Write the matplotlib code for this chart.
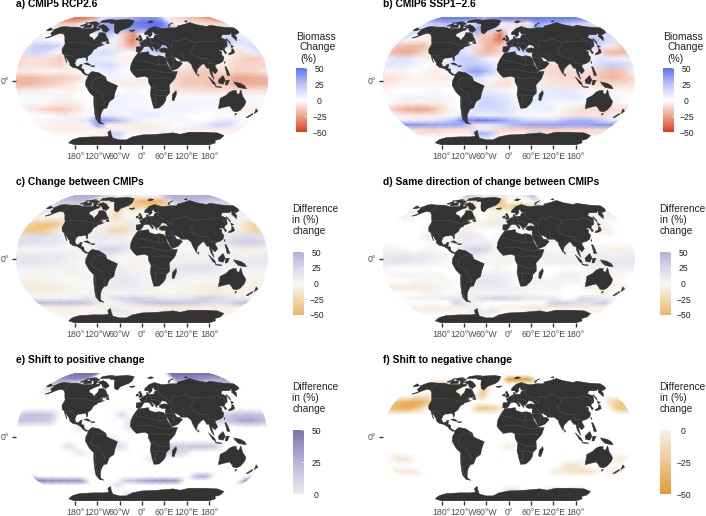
import numpy as np
import matplotlib
matplotlib.use("Agg")
import matplotlib.pyplot as plt
from matplotlib.colors import LinearSegmentedColormap, Normalize
from matplotlib.cm import ScalarMappable
from matplotlib.patches import Polygon

plt.rcParams['font.family'] = ['Liberation Sans', 'DejaVu Sans']

W, H = 706, 516
LATS = [84, 76, 68, 60, 52, 44, 36, 28, 20, 12, 4, -4, -12, -20, -28, -36, -44, -50, -56, -62, -68, -74]
LONS = list(range(-180, 180, 15))

# % biomass change (rows LATS, columns LONS)
cmip5 = [
 [-35,-35,-35,-30,-25,15,15,20,25,25,30,35,40,40,40,35,5,-8,-10,-12,-15,-18,-20,-25],
 [-15,-15,-15,-12,0,20,25,35,35,30,40,45,50,50,50,45,20,-5,-8,-8,-10,-10,-12,-12],
 [-5,-8,10,10,12,15,20,30,35,25,35,40,40,45,50,40,15,-5,-5,-8,-8,-8,-8,-8],
 [5,0,-5,-8,-5,5,5,10,25,10,-15,-30,5,10,10,0,0,0,0,0,-5,5,10,8],
 [8,5,3,0,0,0,0,5,10,5,-15,-35,5,0,0,0,0,0,0,0,0,25,20,12],
 [15,20,22,18,5,0,0,5,5,-5,-12,-25,10,15,35,0,0,0,0,0,0,15,5,10],
 [12,18,15,5,-5,0,0,10,15,12,5,0,12,20,25,0,0,0,0,0,-3,-3,-8,5],
 [-10,-8,-8,-10,-15,0,5,8,8,5,-3,-5,0,0,0,0,-3,0,0,0,-3,-8,-12,-15],
 [-10,-8,-8,-10,-12,-5,10,12,12,15,5,0,0,0,-2,-5,-5,-8,-8,-3,-5,-10,-12,-12],
 [-5,-5,-3,-3,-3,-5,0,3,5,8,3,0,0,0,-3,-8,-10,-12,-15,-12,-8,-12,-12,-10],
 [-18,-20,-18,-15,-15,-12,-10,0,3,5,5,-3,-5,0,0,-10,-14,-15,-15,-18,-18,-25,-25,-22],
 [-20,-20,-18,-15,-12,-8,-3,0,0,-3,-5,-5,-5,0,-5,-8,-15,-15,-15,-18,-15,-22,-22,-22],
 [-8,-5,-5,-3,-3,-3,-2,0,0,0,0,3,0,0,-5,-8,-8,-8,-10,-10,-8,-8,-8,-8],
 [0,3,3,3,5,3,0,0,0,3,5,5,3,0,-3,-3,0,3,3,3,0,0,3,3],
 [3,3,0,-3,-5,-5,-3,0,0,5,5,3,5,0,3,3,5,5,5,5,0,-3,-3,3],
 [-3,-8,-12,-15,-15,-10,-5,0,3,5,5,5,5,3,5,5,5,5,3,0,-3,-3,-5,-5],
 [0,0,0,-3,-5,-3,0,5,10,8,5,5,8,8,5,3,3,0,0,0,3,0,-3,0],
 [0,3,5,5,5,8,10,35,40,30,20,10,5,3,3,3,3,3,0,0,5,8,8,3],
 [-3,-3,-3,-5,-5,-3,5,40,-3,-5,-5,-5,-5,-5,-3,-3,0,3,5,8,15,18,15,3],
 [-5,-5,-5,-5,-5,-5,-5,-5,5,-3,-5,-5,-5,-5,-5,-3,-3,-5,-5,-5,-5,-5,-5,-5],
 [-3,-3,-3,-3,-3,-3,-3,-3,15,20,5,-3,0,0,3,8,3,0,0,-3,0,0,-3,-3],
 [0,0,0,0,0,-3,-3,-3,15,10,0,0,0,0,0,0,0,0,0,0,0,0,0,0],
]
# % biomass change
cmip6 = [
 [45,45,45,45,45,45,40,35,30,40,40,45,45,45,45,45,45,45,45,45,45,45,45,45],
 [15,20,25,30,25,15,10,15,25,30,20,5,-8,-10,-10,-5,35,35,30,30,30,25,20,15],
 [20,10,-10,-10,-8,-5,5,10,35,20,15,10,10,5,15,20,35,5,5,5,5,5,5,20],
 [20,5,-5,-8,-5,5,-3,5,25,-15,-15,-35,5,10,5,0,0,0,0,0,-3,15,15,10],
 [10,3,-3,-5,-3,0,0,5,5,-15,-20,-38,5,0,0,0,0,0,0,0,0,30,25,15],
 [-15,-18,-20,-18,-5,0,0,10,10,-10,-22,-15,15,20,5,0,0,0,0,0,0,20,8,-5],
 [-18,-22,-22,-15,-5,0,0,15,8,-15,-20,-12,15,18,20,0,0,0,0,0,-3,-5,-18,-20],
 [5,12,12,5,-5,0,5,18,20,15,5,-3,0,0,0,0,-5,0,0,0,5,10,8,5],
 [10,10,8,5,0,-3,12,15,20,20,15,5,0,0,-3,-8,-8,-10,-5,5,8,15,20,18],
 [-3,-3,-3,0,-3,-5,3,8,30,38,25,8,0,0,-5,-8,-10,-12,-10,-8,-10,-15,-18,-15],
 [-8,-8,-5,-3,-3,-5,-5,0,10,15,5,-3,-8,0,0,-5,-8,-10,-10,-12,-12,-18,-20,-15],
 [-8,-5,-3,-3,-3,-3,-3,0,0,5,-5,-8,-8,0,0,-5,-8,-8,-8,-10,-8,-10,-10,-10],
 [-3,0,0,0,0,3,0,0,0,5,8,5,-3,0,5,8,8,10,8,5,-3,-3,-3,-3],
 [0,3,5,5,5,5,3,0,0,12,15,12,8,0,5,10,8,8,10,8,0,0,3,3],
 [0,-3,-5,-5,-5,-5,-3,0,0,15,18,15,10,3,8,8,5,3,3,3,-3,-5,-5,-3],
 [-12,-20,-24,-25,-22,-12,-5,0,10,15,15,15,12,5,5,5,8,3,-5,-8,-10,-10,-12,-8],
 [-3,-5,-5,-5,-5,-3,0,10,12,5,5,8,8,5,3,3,0,-3,-5,-8,-8,-5,-8,-5],
 [5,5,8,8,10,15,25,45,45,50,45,40,30,25,15,15,15,15,25,30,30,30,20,10],
 [40,40,38,35,35,35,35,30,-8,-5,10,15,25,30,35,35,35,35,35,35,35,35,40,40],
 [-10,-10,-12,-12,-10,-10,-8,-8,10,5,-8,-10,-12,-12,-12,-15,-15,-15,-15,-12,-12,-12,-10,-10],
 [-8,-8,-8,-8,-5,-5,-5,-5,30,30,20,-5,-5,-5,5,15,15,-5,-5,-5,-5,-5,-8,-8],
 [0,0,0,0,0,0,0,0,10,15,5,0,0,0,0,0,0,0,0,0,0,0,0,0],
]

LAND = [
 [(-168,66),(-162,70),(-156,71),(-141,70),(-128,70),(-115,68),(-108,68),(-96,68),(-94,72),(-88,68),(-82,69),(-81,66),(-87,64),(-94,60),(-92,57),(-85,55),(-82,53),(-80,51),(-79,54),(-77,57),(-78,62),(-70,62),(-65,60),(-61,56),(-56,52),(-60,50),(-66,50),(-70,47),(-64,49),(-65,46),(-60,46),(-66,44),(-70,43),(-71,41),(-74,40),(-76,37),(-76,35),(-81,31),(-80,27),(-81,25),(-83,29),(-85,30),(-90,29),(-94,29),(-97,27),(-98,22),(-95,18),(-91,19),(-90,21),(-87,21),(-88,16),(-84,15),(-83,11),(-80,9),(-77,8),(-80,7),(-85,10),(-88,13),(-94,16),(-100,17),(-105,20),(-106,23),(-112,29),(-114,31),(-110,23),(-115,30),(-117,33),(-121,35),(-124,40),(-124,47),(-128,51),(-133,56),(-140,60),(-148,61),(-153,59),(-160,55),(-165,54.5),(-158,58),(-165,61),(-165,64)],
 [(-73,78),(-60,82),(-35,83.5),(-18,81),(-20,74),(-25,70),(-40,65),(-44,60),(-50,62),(-54,68),(-58,75),(-68,76)],
 [(-81,74),(-72,71.5),(-62,66),(-66,62),(-74,64.5),(-78,68),(-90,71)],
 [(-118,73),(-104,73.5),(-100,69.5),(-115,68.8)],
 [(-92,77),(-75,77.5),(-62,82),(-75,83.5),(-92,81)],
 [(-126,72),(-118,76),(-114,73.5),(-122,71)],
 [(-112,77),(-94,76.5),(-88,74.5),(-100,73.5),(-110,74.5)],
 [(-122,76.5),(-105,79),(-98,78),(-110,76)],
 [(-100,73.5),(-92,74),(-90,71),(-96,70)],
 [(-59,48),(-53,47),(-56,51.5)],
 [(-77,8),(-72,12),(-62,10.5),(-52,5),(-50,0),(-44,-2.5),(-35,-6),(-39,-15),(-41,-22),(-48,-26),(-53,-34),(-58,-35),(-62,-39),(-65,-43),(-67,-47),(-69,-52),(-65,-55),(-72,-54),(-75,-48),(-73,-38),(-70,-20),(-76,-14),(-81,-5),(-80,1),(-78,4)],
 [(-6,35.5),(10,37),(11,33.5),(20,31),(25,32),(32,31),(35,28),(37,21),(43,12),(51,12),(47,3),(39,-5),(40,-15),(35,-20),(35,-24),(32,-29),(26,-34),(18,-34.5),(15,-27),(12,-17),(13,-8),(9,-1),(9,4),(4,6),(-4,5),(-8,4.5),(-13,9),(-17,14),(-16,21),(-13,27),(-10,31)],
 [(-9,37),(-9,43),(-1,44),(-4,48),(2,51),(8,54),(8,57),(11,56),(11,54),(20,54.5),(22,58),(29,60),(23,60),(21,63),(24,66),(18,62),(18,59),(13,55.5),(11,59),(5,59),(5,62),(14,68),(25,71),(41,67),(33,66.5),(44,68),(54,69),(68,69),(73,72),(87,74),(105,77.5),(113,74),(130,71),(140,73),(160,70),(180,69),(180,65),(177,62),(170,60),(164,59),(163,56),(157,51),(156,57),(163,62),(155,59),(142,59),(135,55),(141,52),(135,44),(130,42),(127,39),(129,36),(126,34),(125,39),(121,39),(118,38),(122,37),(120,33),(122,30),(119,25),(113,22),(108,21),(106,19),(109,13),(105,9),(100,13),(103,2),(100,6),(98,10),(97,16),(94,16),(90,22),(86,20),(80,15),(78,8),(73,17),(72,21),(67,25),(57,25),(56,27),(50,30),(48,30),(51,25),(56,24.5),(59,22),(52,16),(43,13),(39,21),(35,28),(35,32),(36,36),(30,36),(26,38),(29,41),(35,42),(41,41),(38,45),(32,46),(28,42),(26,40),(23,40),(23,36.5),(19,42),(13,45),(18,40),(16,38),(12,43),(8,44),(3,43),(0,39),(-2,37),(-5,36)],
 [(-180,69),(-172,67),(-170,66),(-175,64.5),(-180,65)],
 [(-5,50),(1,51),(0,54),(-3,58.5),(-6,57),(-3,54),(-5,52)],
 [(-10,52),(-6,52),(-6,55),(-10,54)],
 [(-24,65),(-14,66),(-14,64.5),(-20,63.5)],
 [(12,78),(20,80.5),(27,79),(18,76.5)],
 [(52,71),(56,74),(68,77),(58,74),(55,71)],
 [(95,79),(105,81),(100,78)],
 [(130,33),(136,34),(141,36),(142,40),(140,41),(137,37),(131,34.5)],
 [(140,42),(145,43.5),(142,45.5)],
 [(142,46),(144,49),(143,54),(142,53)],
 [(120,23),(122,25),(121,22)],
 [(120,18),(122,18),(124,13),(126,7),(122,7),(121,13)],
 [(109,1),(116,7),(119,1),(116,-4),(110,-3)],
 [(95,5.5),(104,-2),(106,-6),(101,-3)],
 [(105,-6.5),(114,-7.5),(114,-8.5),(106,-7.5)],
 [(120,1),(125,1),(122,-5),(119,-5)],
 [(131,-1),(141,-3),(147,-6),(150,-10),(143,-9),(138,-8),(133,-4)],
 [(114,-22),(122,-18),(126,-14),(131,-12),(136,-12),(136,-15),(140,-17),(142,-11),(146,-19),(153,-26),(153,-31),(150,-37),(146,-39),(140,-38),(136,-35),(131,-31.5),(124,-33),(116,-35),(115,-32)],
 [(145,-41),(148,-41),(147,-43.5)],
 [(167,-46),(172,-41),(174,-42),(170,-46.5)],
 [(173,-35),(178,-38),(175,-41.5),(174,-38)],
 [(49,-12),(50,-16),(47,-25),(44,-24),(44,-17)],
 [(80,9.5),(82,7),(80,6)],
 [(-85,22),(-80,23),(-74,20),(-78,20)],
 [(-74,19),(-69,19.5),(-69,18),(-74,18)],
 [(-180,-84),(-160,-79),(-150,-77),(-130,-74),(-100,-73),(-80,-73),(-68,-72),(-65,-66),(-58,-63.5),(-60,-68),(-62,-75),(-50,-78),(-35,-78),(-20,-73),(0,-70),(30,-69),(60,-67),(75,-69),(90,-66),(120,-66),(145,-67),(165,-71),(170,-77),(165,-79),(180,-84),(180,-90),(-180,-90)],
]
BORDERS = [
 [(-123,49),(-95,49),(-83,46),(-75,45),(-67,47)],
 [(-141,70),(-141,60)],
 [(-117,32.5),(-106,32),(-97,26)],
 [(-70,-10),(-58,-16),(-58,-22),(-54,-26),(-57,-30)],
 [(-70,-10),(-73,-7),(-70,-2),(-70,2),(-60,5),(-52,3)],
 [(-70,-18),(-68,-23),(-71,-35),(-72,-50)],
 [(-10,27),(12,23),(25,20),(25,31)],
 [(25,20),(37,21)],
 [(-5,15),(15,14),(24,12),(35,10),(43,11)],
 [(12,5),(18,3),(30,4),(41,3)],
 [(13,-6),(22,-11),(30,-12),(40,-11)],
 [(12,-17),(24,-18),(35,-18)],
 [(20,-18),(20,-29),(17,-29)],
 [(28,70),(30,60),(28,56),(32,52),(40,49),(47,42)],
 [(47,42),(50,51),(60,51),(72,54),(87,49),(98,50),(118,50),(125,53),(135,48),(131,43)],
 [(87,49),(80,42),(74,38),(78,32),(88,28),(97,28),(98,22),(105,22),(108,21)],
 [(61,36),(61,30),(62,25)],
 [(44,37),(46,30),(35,30)],
 [(47,30),(45,17)],
 [(2,43),(8,48),(8,54)],
 [(14,54),(15,47),(22,48),(29,45)],
]

# Robinson projection tables, every 5 degrees of latitude from 0 to 90
ROB_LAT = np.arange(0, 95, 5)
ROB_PLEN = [1,.9986,.9954,.99,.9822,.973,.96,.9427,.9216,.8962,.8679,.835,.7986,.7597,.7186,.6732,.6213,.5722,.5322]
ROB_PDFE = [0,.062,.124,.186,.248,.31,.372,.434,.4958,.5571,.6176,.6769,.7346,.7903,.8435,.8936,.9394,.9761,1]

def robinson(lon, lat):
    lon, lat = np.asarray(lon, float), np.asarray(lat, float)
    a = np.abs(lat)
    return (0.8487 * np.interp(a, ROB_LAT, ROB_PLEN) * np.radians(lon),
            1.3523 * np.sign(lat) * np.interp(a, ROB_LAT, ROB_PDFE))

def dense(ring, closed=True):
    r = list(ring) + ([ring[0]] if closed else [])
    lo, la = [], []
    for (x0, y0), (x1, y1) in zip(r[:-1], r[1:]):
        n = max(2, int(max(abs(x1 - x0), abs(y1 - y0)) / 3) + 1)
        lo += list(np.linspace(x0, x1, n, endpoint=False))
        la += list(np.linspace(y0, y1, n, endpoint=False))
    lo.append(r[-1][0]); la.append(r[-1][1])
    return robinson(lo, la)

XMAX, YMAX = 0.8487 * np.pi, 1.3523
_lon = np.array(LONS + [180])
_lat = np.array([90] + LATS + [-90])
LON2, LAT2 = np.meshgrid(_lon, _lat)
MX, MY = robinson(LON2, LAT2)

def frame(values):
    v = np.asarray(values, float)
    v = np.vstack([v[:1], v, v[-1:]])
    return np.hstack([v, v[:, :1]])

A = frame(cmip5)
B = frame(cmip6)
DIFF = B - A
# cells outside a panel's class take a value off the colour scale and draw white
OFF = 999
SAME = np.where(A * B > 0, DIFF, -OFF)
POS = np.where((A <= 0) & (B > 0), DIFF, -OFF)
NEG = np.where((A >= 0) & (B < 0), DIFF, OFF)

def cm(stops):
    c = LinearSegmentedColormap.from_list('c', stops, N=256)
    return c

CM_CHANGE = cm(['#dc3d1f', '#eca48b', '#ffffff', '#bac3f8', '#5f72ec'])
CM_DIFF = cm(['#ebb662', '#f3d8ae', '#f8f7f5', '#d8d6e9', '#b4b0d4'])
CM_POS = cm(['#ecebf3', '#b9b4d8', '#7b73b1'])
CM_NEG = cm(['#e29b32', '#eec98f', '#f5efe5'])
CM_SAME = CM_DIFF.with_extremes(under='white')
CM_POS_M = CM_POS.with_extremes(under='white')
CM_NEG_M = CM_NEG.with_extremes(over='white')

fig = plt.figure(figsize=(W / 100, H / 100), dpi=100, facecolor='white')
MAP_W = 252
MAP_H = MAP_W * YMAX / XMAX

def rect(l, t, w, h):
    return [l / W, 1 - (t + h) / H, w / W, h / H]

def T(x, y, s, **k):
    fig.text(x / W, 1 - y / H, s, va='center', **k)

panels = [
 ('a) CMIP5 RCP2.6', A, CM_CHANGE, -50, 50, 142, 81, 16, 4),
 ('b) CMIP6 SSP1\u22122.6', B, CM_CHANGE, -50, 50, 508.7, 81, 383, 4),
 ('c) Change between CMIPs', DIFF, CM_DIFF, -50, 50, 142, 259, 16, 182),
 ('d) Same direction of change between CMIPs', SAME, CM_SAME, -50, 50, 508.7, 259, 383, 182),
 ('e) Shift to positive change', POS, CM_POS_M, 0, 50, 142, 437, 16, 360),
 ('f) Shift to negative change', NEG, CM_NEG_M, -50, 0, 508.7, 437, 383, 360),
]
tick_lons = [-180, -120, -60, 0, 60, 120, 180]
tick_labels = ['180°', '120°W', '60°W', '0°', '60°E', '120°E', '180°']

for title, data, cmap, vmin, vmax, cx, cy, tx, ty in panels:
    ax = fig.add_axes(rect(cx - MAP_W / 2, cy - MAP_H / 2, MAP_W, MAP_H))
    ax.set_xlim(-XMAX, XMAX)
    ax.set_ylim(-YMAX, YMAX)
    mesh = ax.pcolormesh(MX, MY, data, cmap=cmap, vmin=vmin, vmax=vmax,
                         shading='gouraud', rasterized=True)
    bx, by = dense([(-180, 90), (180, 90), (180, -90), (-180, -90)])
    clip = Polygon(np.c_[bx, by], transform=ax.transData, fc='none', ec='none')
    ax.add_patch(clip)
    mesh.set_clip_path(clip)
    for ring in LAND:
        x, y = dense(ring)
        ax.fill(x, y, fc='#333333', ec='#333333', lw=0.3, zorder=3)
    for line in BORDERS:
        x, y = dense(line, closed=False)
        ax.plot(x, y, color='#5c5c5c', lw=0.3, zorder=4)
    for s in ax.spines.values():
        s.set_visible(False)
    ax.set_xticks(robinson(tick_lons, [-90] * 7)[0])
    ax.set_xticklabels(tick_labels)
    ax.set_yticks([0])
    ax.set_yticklabels(['0°'])
    ax.tick_params(axis='both', length=3, width=1, color='#333333',
                   labelcolor='#4d4d4d', labelsize=6.3, pad=2)
    T(tx, ty, title, fontsize=7.4, fontweight='bold', color='black', ha='left')

legends = [
 (296, 68, 64, CM_CHANGE, [-50, 50], [50, 25, 0, -25, -50]),
 (663, 68, 64, CM_CHANGE, [-50, 50], [50, 25, 0, -25, -50]),
 (293, 252, 63, CM_DIFF, [-50, 50], [50, 25, 0, -25, -50]),
 (660, 252, 63, CM_DIFF, [-50, 50], [50, 25, 0, -25, -50]),
 (293, 430, 64, CM_POS, [0, 50], [50, 25, 0]),
 (660, 430, 64, CM_NEG, [-50, 0], [0, -25, -50]),
]
for x, y, h, cmap, lim, ticks in legends:
    cax = fig.add_axes(rect(x, y, 11, h))
    cb = fig.colorbar(ScalarMappable(Normalize(lim[0], lim[1]), cmap), cax=cax, ticks=ticks)
    cb.outline.set_visible(False)
    cax.tick_params(length=2, width=0.4, color='white', direction='in', pad=9, labelsize=6.2, labelcolor='#222222')
    cax.set_yticklabels([str(t).replace('-', '\u2212') for t in ticks], ha='center')

for dx in (0, 367):
    T(296.5 + dx, 36.5, 'Biomass', fontsize=7.5, color='#222222', ha='left')
    T(300 + dx, 47.5, 'Change', fontsize=7.5, color='#222222', ha='left')
    T(300 + dx, 58.5, '(%)', fontsize=7.5, color='#222222', ha='left')
    for y0 in (209, 387):
        T(292.5 + dx, y0, 'Difference', fontsize=7.3, color='#222222', ha='left')
        T(292.5 + dx, y0 + 11, 'in (%)', fontsize=7.3, color='#222222', ha='left')
        T(292.5 + dx, y0 + 22, 'change', fontsize=7.3, color='#222222', ha='left')

fig.savefig('out.png', dpi=100, facecolor='white')
